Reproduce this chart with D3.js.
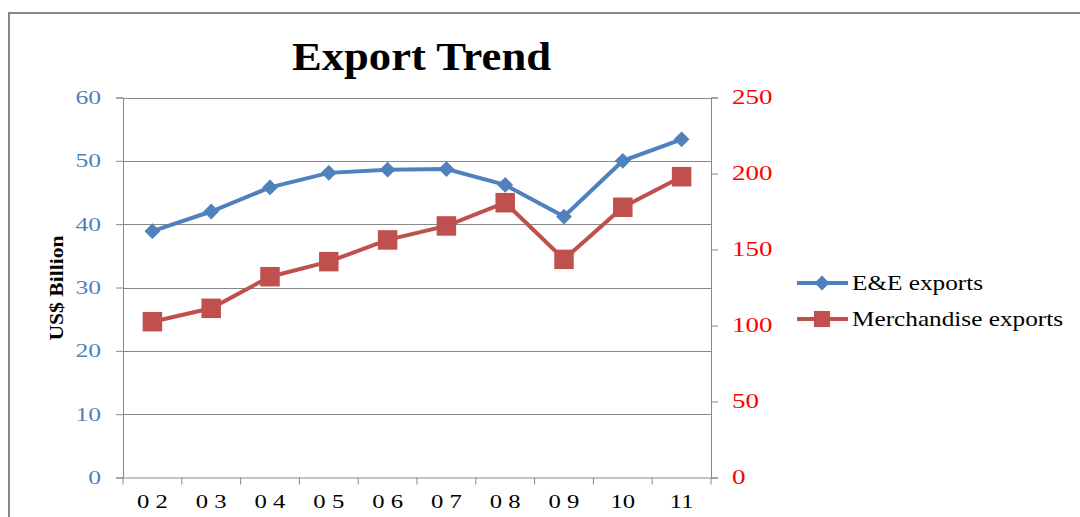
<!DOCTYPE html>
<html>
<head>
<meta charset="utf-8">
<script src="https://cdn.jsdelivr.net/npm/d3@7"></script>
<style>
  body { margin: 0; background: #fff; }
  text { font-family: "Liberation Serif", "DejaVu Serif", serif; }
</style>
</head>
<body>
<div id="chart"></div>
<script>
// data
var years = ['0 2', '0 3', '0 4', '0 5', '0 6', '0 7', '0 8', '0 9', '10', '11'];
var eeExports = [38.9, 42.0, 45.8, 48.1, 48.6, 48.7, 46.2, 41.2, 50.0, 53.4];
var merchExports = [102.5, 111.3, 132.1, 142.0, 156.3, 165.5, 180.8, 143.5, 177.8, 197.9];
var leftTicks = [0, 10, 20, 30, 40, 50, 60];
var rightTicks = [0, 50, 100, 150, 200, 250];
var seriesNames = ['E&E exports', 'Merchandise exports'];

const W = 1080, H = 517;
const BLUE = '#4F81BD', RED = '#C0504D', GRID = '#888';
const plot = {left: 123, right: 711, top: 97.5, bottom: 477.5};

// the original text is drawn wide, so stretch it sideways
function stretch(sel, sx) {
  sel.each(function () {
    var t = d3.select(this);
    var x0 = +t.attr('x') || 0;
    t.attr('x', x0 / sx).attr('transform', 'scale(' + sx + ',1)');
  });
}

var svg = d3.select('#chart').append('svg')
            .attr('width', W)
            .attr('height', H);

// outer frame
svg.append('rect')
   .attr('x', 9).attr('y', 13)
   .attr('width', 1090).attr('height', 520)
   .attr('fill', 'none')
   .attr('stroke', '#878787')
   .attr('stroke-width', 2);

var x = d3.scaleBand().domain(years).range([plot.left, plot.right]);
var yLeft = d3.scaleLinear().domain([0, 60]).range([plot.bottom, plot.top]);
var yRight = d3.scaleLinear().domain([0, 250]).range([plot.bottom, plot.top]);

// title
svg.append('text')
   .attr('x', 292).attr('y', 70)
   .attr('font-size', 40)
   .attr('font-weight', 'bold')
   .attr('textLength', 259)
   .attr('lengthAdjust', 'spacingAndGlyphs')
   .text('Export Trend');

// gridlines
svg.append('g').selectAll('line').data(leftTicks.filter(d => d > 0))
   .enter().append('line')
   .attr('x1', plot.left).attr('x2', plot.right)
   .attr('y1', d => Math.round(yLeft(d)) + 0.5)
   .attr('y2', d => Math.round(yLeft(d)) + 0.5)
   .attr('stroke', GRID);

// left axis
var leftAxis = svg.append('g')
   .attr('transform', 'translate(' + plot.left + ',0)')
   .call(d3.axisLeft(yLeft).tickValues(leftTicks).tickSize(7).tickPadding(15));
leftAxis.selectAll('text').attr('fill', BLUE).attr('font-size', 19)
        .style('font-family', '"Liberation Serif", serif');
stretch(leftAxis.selectAll('text'), 1.35);

// right axis
var rightAxis = svg.append('g')
   .attr('transform', 'translate(' + plot.right + ',0)')
   .call(d3.axisRight(yRight).tickValues(rightTicks).tickSize(7).tickPadding(14));
rightAxis.selectAll('text').attr('fill', '#FF0000').attr('font-size', 20)
         .style('font-family', '"Liberation Serif", serif');
stretch(rightAxis.selectAll('text'), 1.35);

// bottom axis, ticks at band edges
var bottomAxis = svg.append('g')
   .attr('transform', 'translate(0,' + plot.bottom + ')')
   .call(d3.axisBottom(x).tickSize(0).tickPadding(19));
bottomAxis.selectAll('text').attr('fill', '#000').attr('font-size', 19)
          .attr('dy', '0.6em')
          .style('font-family', '"Liberation Serif", serif');
stretch(bottomAxis.selectAll('text'), 1.3);
bottomAxis.selectAll('.edge').data(d3.range(years.length + 1))
   .enter().append('line').classed('edge', true)
   .attr('x1', i => plot.left + i * x.bandwidth())
   .attr('x2', i => plot.left + i * x.bandwidth())
   .attr('y1', 0).attr('y2', 7)
   .attr('stroke', GRID);

svg.selectAll('.domain, .tick line').attr('stroke', GRID);

// y axis title
svg.append('text')
   .attr('transform', 'translate(63,288) rotate(-90)')
   .attr('text-anchor', 'middle')
   .attr('font-size', 18)
   .attr('font-weight', 'bold')
   .attr('textLength', 105)
   .attr('lengthAdjust', 'spacingAndGlyphs')
   .text('US$ Billion');

var cx = (d, i) => x(years[i]) + x.bandwidth() / 2;

// E&E line
svg.append('path')
   .datum(eeExports)
   .attr('fill', 'none')
   .attr('stroke', BLUE)
   .attr('stroke-width', 4)
   .attr('d', d3.line().x(cx).y(d => yLeft(d)));

// merchandise line
svg.append('path')
   .datum(merchExports)
   .attr('fill', 'none')
   .attr('stroke', RED)
   .attr('stroke-width', 4)
   .attr('d', d3.line().x(cx).y(d => yRight(d)));

var diamond = d3.symbol().type(d3.symbolDiamond2).size(160);
var square = d3.symbol().type(d3.symbolSquare).size(380);

svg.append('g').selectAll('path').data(eeExports)
   .enter().append('path')
   .attr('transform', (d, i) => 'translate(' + cx(d, i) + ',' + yLeft(d) + ')')
   .attr('d', diamond)
   .attr('fill', BLUE);

svg.append('g').selectAll('path').data(merchExports)
   .enter().append('path')
   .attr('transform', (d, i) => 'translate(' + cx(d, i) + ',' + yRight(d) + ')')
   .attr('d', square)
   .attr('fill', RED);

// legend
var legendWidths = [131, 211];
var legend = svg.append('g').selectAll('g').data(seriesNames)
   .enter().append('g')
   .attr('transform', (d, i) => 'translate(797,' + (283 + i * 36) + ')');

legend.append('line')
   .attr('x1', 0).attr('x2', 51)
   .attr('stroke', (d, i) => i ? RED : BLUE)
   .attr('stroke-width', 4);

legend.append('path')
   .attr('transform', 'translate(25,0)')
   .attr('d', (d, i) => i ? d3.symbol().type(d3.symbolSquare).size(260)() : d3.symbol().type(d3.symbolDiamond2).size(140)())
   .attr('fill', (d, i) => i ? RED : BLUE);

legend.append('text')
   .attr('x', 55).attr('y', 7)
   .attr('font-size', 22)
   .attr('textLength', (d, i) => legendWidths[i])
   .attr('lengthAdjust', 'spacingAndGlyphs')
   .text(d => d);
</script>
</body>
</html>
